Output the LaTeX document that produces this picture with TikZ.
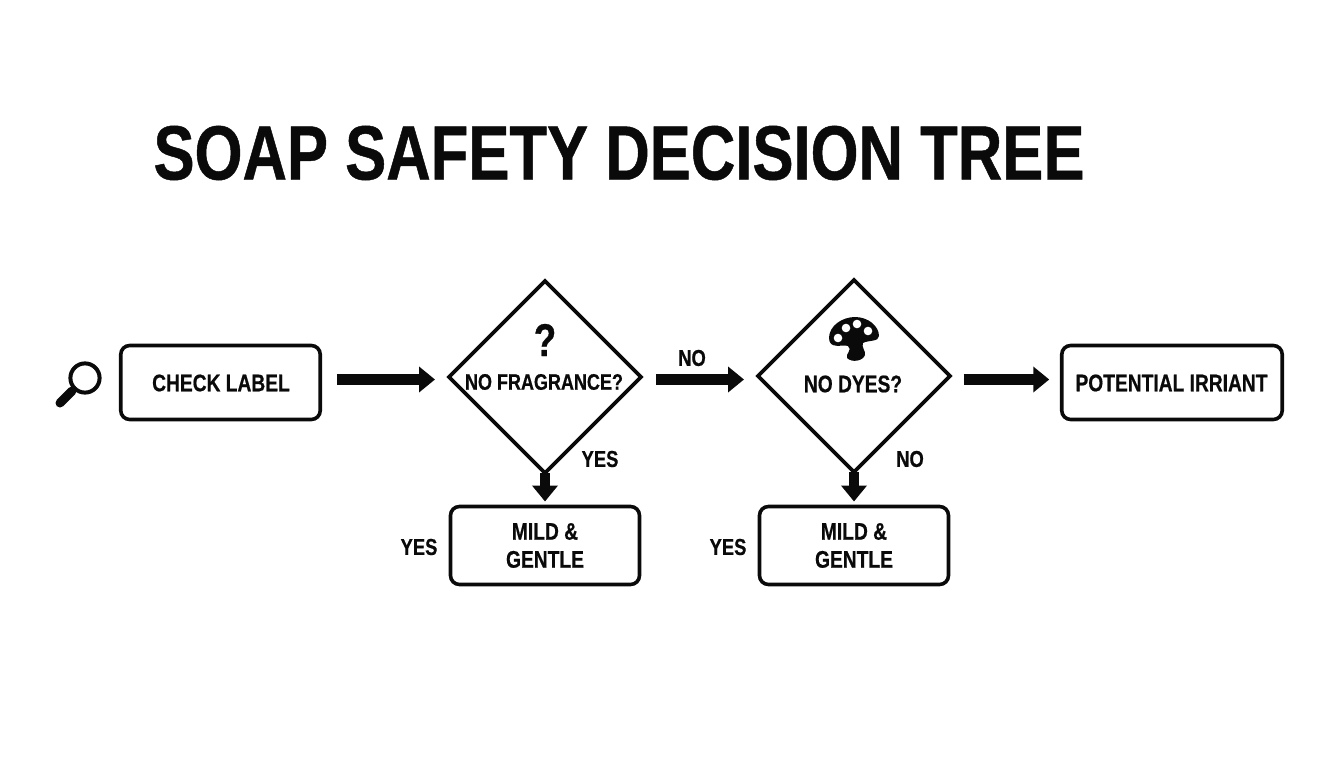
\documentclass[tikz,border=0pt]{standalone}
\usepackage{fontspec}
\setmainfont{Liberation Sans}[FakeStretch=0.80,BoldFeatures={FakeBold=0.6}]
\usetikzlibrary{arrows.meta,shapes.geometric}

\definecolor{inkblack}{HTML}{0A0A0A}
\newcommand*{\boxLine}{3.6pt}
\newcommand*{\shaftWidth}{10.5pt}

\tikzset{
    stepbox/.style={draw=inkblack, line width=\boxLine, rounded corners=9pt, outer sep=0pt, inner sep=0pt, minimum height=#1},
    stepbox/.default=74pt,
    question/.style={draw=inkblack, line width=\boxLine, diamond, aspect=1, outer sep=0pt, inner sep=0pt, minimum width=192pt, minimum height=192pt},
    boxtext/.style={text=inkblack, inner sep=0pt, font=\fontsize{24}{28}\selectfont\bfseries, align=center},
    edgetext/.style={text=inkblack, inner sep=0pt, font=\fontsize{23}{27}\selectfont\bfseries},
    flowarrow/.style={-{Triangle[length=16pt,width=25pt]}, draw=inkblack, fill=inkblack, line width=\shaftWidth}
}

\begin{document}
\begin{tikzpicture}[x=1pt,y=-1pt]
\useasboundingbox (0,0) rectangle (1344,768);

% title
\node[text=inkblack, inner sep=0pt, font=\fontsize{77}{80}\selectfont\bfseries] (title) at (619,153) {SOAP SAFETY DECISION TREE};

% boxes
\node[stepbox, minimum width=199.5pt] (check) at (220.5,382.5) {};
\node[stepbox, minimum width=220.5pt] (irritant) at (1172,382.5) {};
\node[stepbox=78pt, minimum width=189pt] (mildA) at (545,545.5) {};
\node[stepbox=78pt, minimum width=189pt] (mildB) at (854,545.5) {};

% decisions
\node[question] (fragrance) at (545,377) {};
\node[question] (dyes) at (854,376) {};

% box and decision texts
\node[boxtext] (checkText) at (221,383) {CHECK LABEL};
\node[boxtext] (irritantText) at (1171.5,383) {POTENTIAL IRRIANT};
\node[boxtext, font=\fontsize{22.5}{27}\selectfont\bfseries] (fragranceText) at (544,382) {NO FRAGRANCE?};
\node[boxtext] (dyesText) at (853,384) {NO DYES?};
\node[boxtext] (mildAText) at (545,545.5) {MILD \&\\GENTLE};
\node[boxtext] (mildBText) at (854,545.5) {MILD \&\\GENTLE};

% arrows
\draw[flowarrow, shorten <=16.5pt, shorten >=14pt] ([yshift=3pt]check.east) -- ([yshift=-2.5pt]fragrance.west);
\draw[flowarrow, shorten <=15pt, shorten >=14pt] ([yshift=-2.5pt]fragrance.east) -- ([yshift=-3.5pt]dyes.west);
\draw[flowarrow, shorten <=13.5pt, shorten >=12.5pt] ([yshift=-3.5pt]dyes.east) -- ([yshift=3pt]irritant.west);
\draw[flowarrow, shorten >=5pt] (fragrance.south) -- (mildA.north);
\draw[flowarrow, shorten >=5pt] (dyes.south) -- (mildB.north);

% edge labels
\node[edgetext] (noA) at (692,358) {NO};
\node[edgetext] (yesA) at (600,459) {YES};
\node[edgetext] (noB) at (910,459) {NO};
\node[edgetext] (yesB) at (419,547) {YES};
\node[edgetext] (yesC) at (728,547) {YES};

% question mark
\node[text=inkblack, inner sep=0pt, font=\fontsize{46}{48}\selectfont\bfseries] (mark) at (545,340) {?};

% magnifier
\draw[inkblack, line width=4pt] (85,378) circle (14.6);
\draw[inkblack, line width=3pt] (74.5,388.5) -- (71,392);
\draw[inkblack, line width=9pt, line cap=round] (72,391) -- (60,403);

% palette
\fill[inkblack] (829,338) .. controls (829,326) and (842,317) .. (855,317)
    .. controls (868,317) and (879,326) .. (879,336)
    .. controls (879,342) and (868,340) .. (863,343)
    .. controls (861,347) and (866,351) .. (865,355)
    .. controls (863,361) and (852,363) .. (847,358)
    .. controls (845,354) and (853,350) .. (848,346)
    .. controls (843,344) and (829,350) .. (829,338) -- cycle;
\foreach \px/\py in {838/338,846/328,857/324,868/331} {
    \fill[white] (\px,\py) circle (4.3);
}

\end{tikzpicture}
\end{document}
